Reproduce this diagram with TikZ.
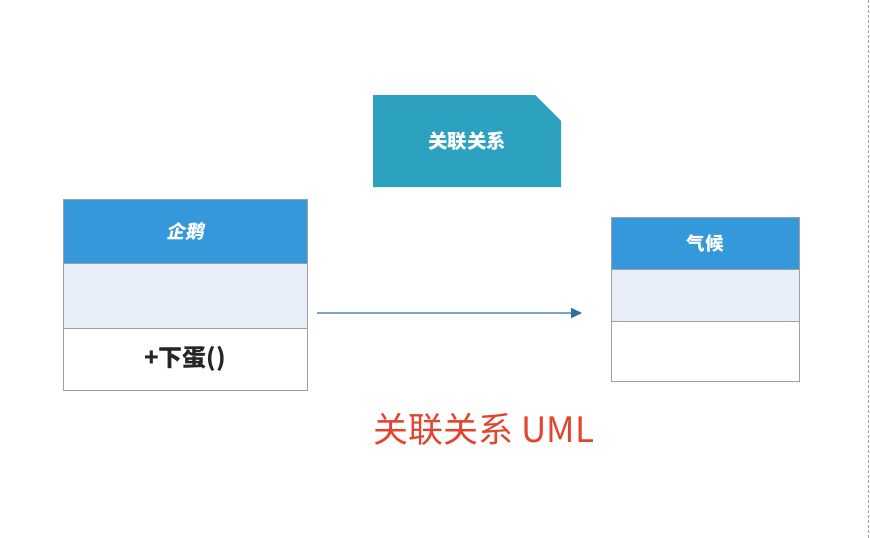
\documentclass[tikz,border=0pt]{standalone}
\usepackage{fontspec}
\setmainfont{Noto Sans CJK SC}
\newfontfamily\cjk{Noto Sans CJK SC}
\newfontfamily\cjkslant[FakeSlant=0.22]{Noto Sans CJK SC}
\usetikzlibrary{arrows.meta}
\definecolor{headblue}{HTML}{3498DB}
\definecolor{attrfill}{HTML}{E8EEF7}
\definecolor{boxline}{HTML}{A0A0A0}
\definecolor{notefill}{HTML}{2CA1C0}
\definecolor{arrowline}{HTML}{7BA3C4}
\definecolor{arrowhead}{HTML}{2A6F9F}
\definecolor{titlered}{HTML}{E0452F}
\tikzset{
  classhead/.style={fill=headblue, draw=boxline, line width=0.8pt},
  classattr/.style={fill=attrfill, draw=boxline, line width=0.8pt},
  classops/.style={fill=white, draw=boxline, line width=0.8pt},
  headtext/.style={text=white, font=\cjkslant\bfseries\fontsize{18.5}{22}\selectfont},
  headtextup/.style={text=white, font=\cjk\bfseries\fontsize{18.5}{22}\selectfont},
  optext/.style={text=black!85, font=\cjk\bfseries\fontsize{24}{28}\selectfont},
}
\begin{document}
\begin{tikzpicture}[x=1pt, y=-1pt]
  \useasboundingbox (0,0) rectangle (870,538);
  % page edge marker
  \draw[boxline, line width=0.8pt, dash pattern=on 3pt off 2pt] (868,0) -- (868,538);

  % note with folded corner
  \fill[notefill] (373,95) -- (535,95) -- (561,121) -- (561,187) -- (373,187) -- cycle;
  \node[text=white, font=\cjk\bfseries\fontsize{19.5}{22}\selectfont] (note) at (467,141) {关联关系};

  % class: penguin
  \draw[classhead] (63,199) rectangle (307,263);
  \draw[classattr] (63,263) rectangle (307,328);
  \draw[classops] (63,328) rectangle (307,390);
  \node[headtext] (penguin) at (185,231) {企鹅};
  \node[optext] (layegg) at (185,359) {+下蛋()};
  \coordinate (pright) at (317,313);

  % class: climate
  \draw[classhead] (611,217) rectangle (799,269);
  \draw[classattr] (611,269) rectangle (799,321);
  \draw[classops] (611,321) rectangle (799,381);
  \node[headtextup] (climate) at (705,243) {气候};
  \coordinate (cleft) at (582,313);

  % association
  \draw[arrowline, line width=1.2pt, -{Triangle[length=11pt, width=10pt, fill=arrowhead, color=arrowhead]}] (pright) -- (cleft);

  % caption
  \node[text=titlered, font=\cjk\fontsize{35}{40}\selectfont] (caption) at (484,429) {关联关系 UML};
\end{tikzpicture}
\end{document}
